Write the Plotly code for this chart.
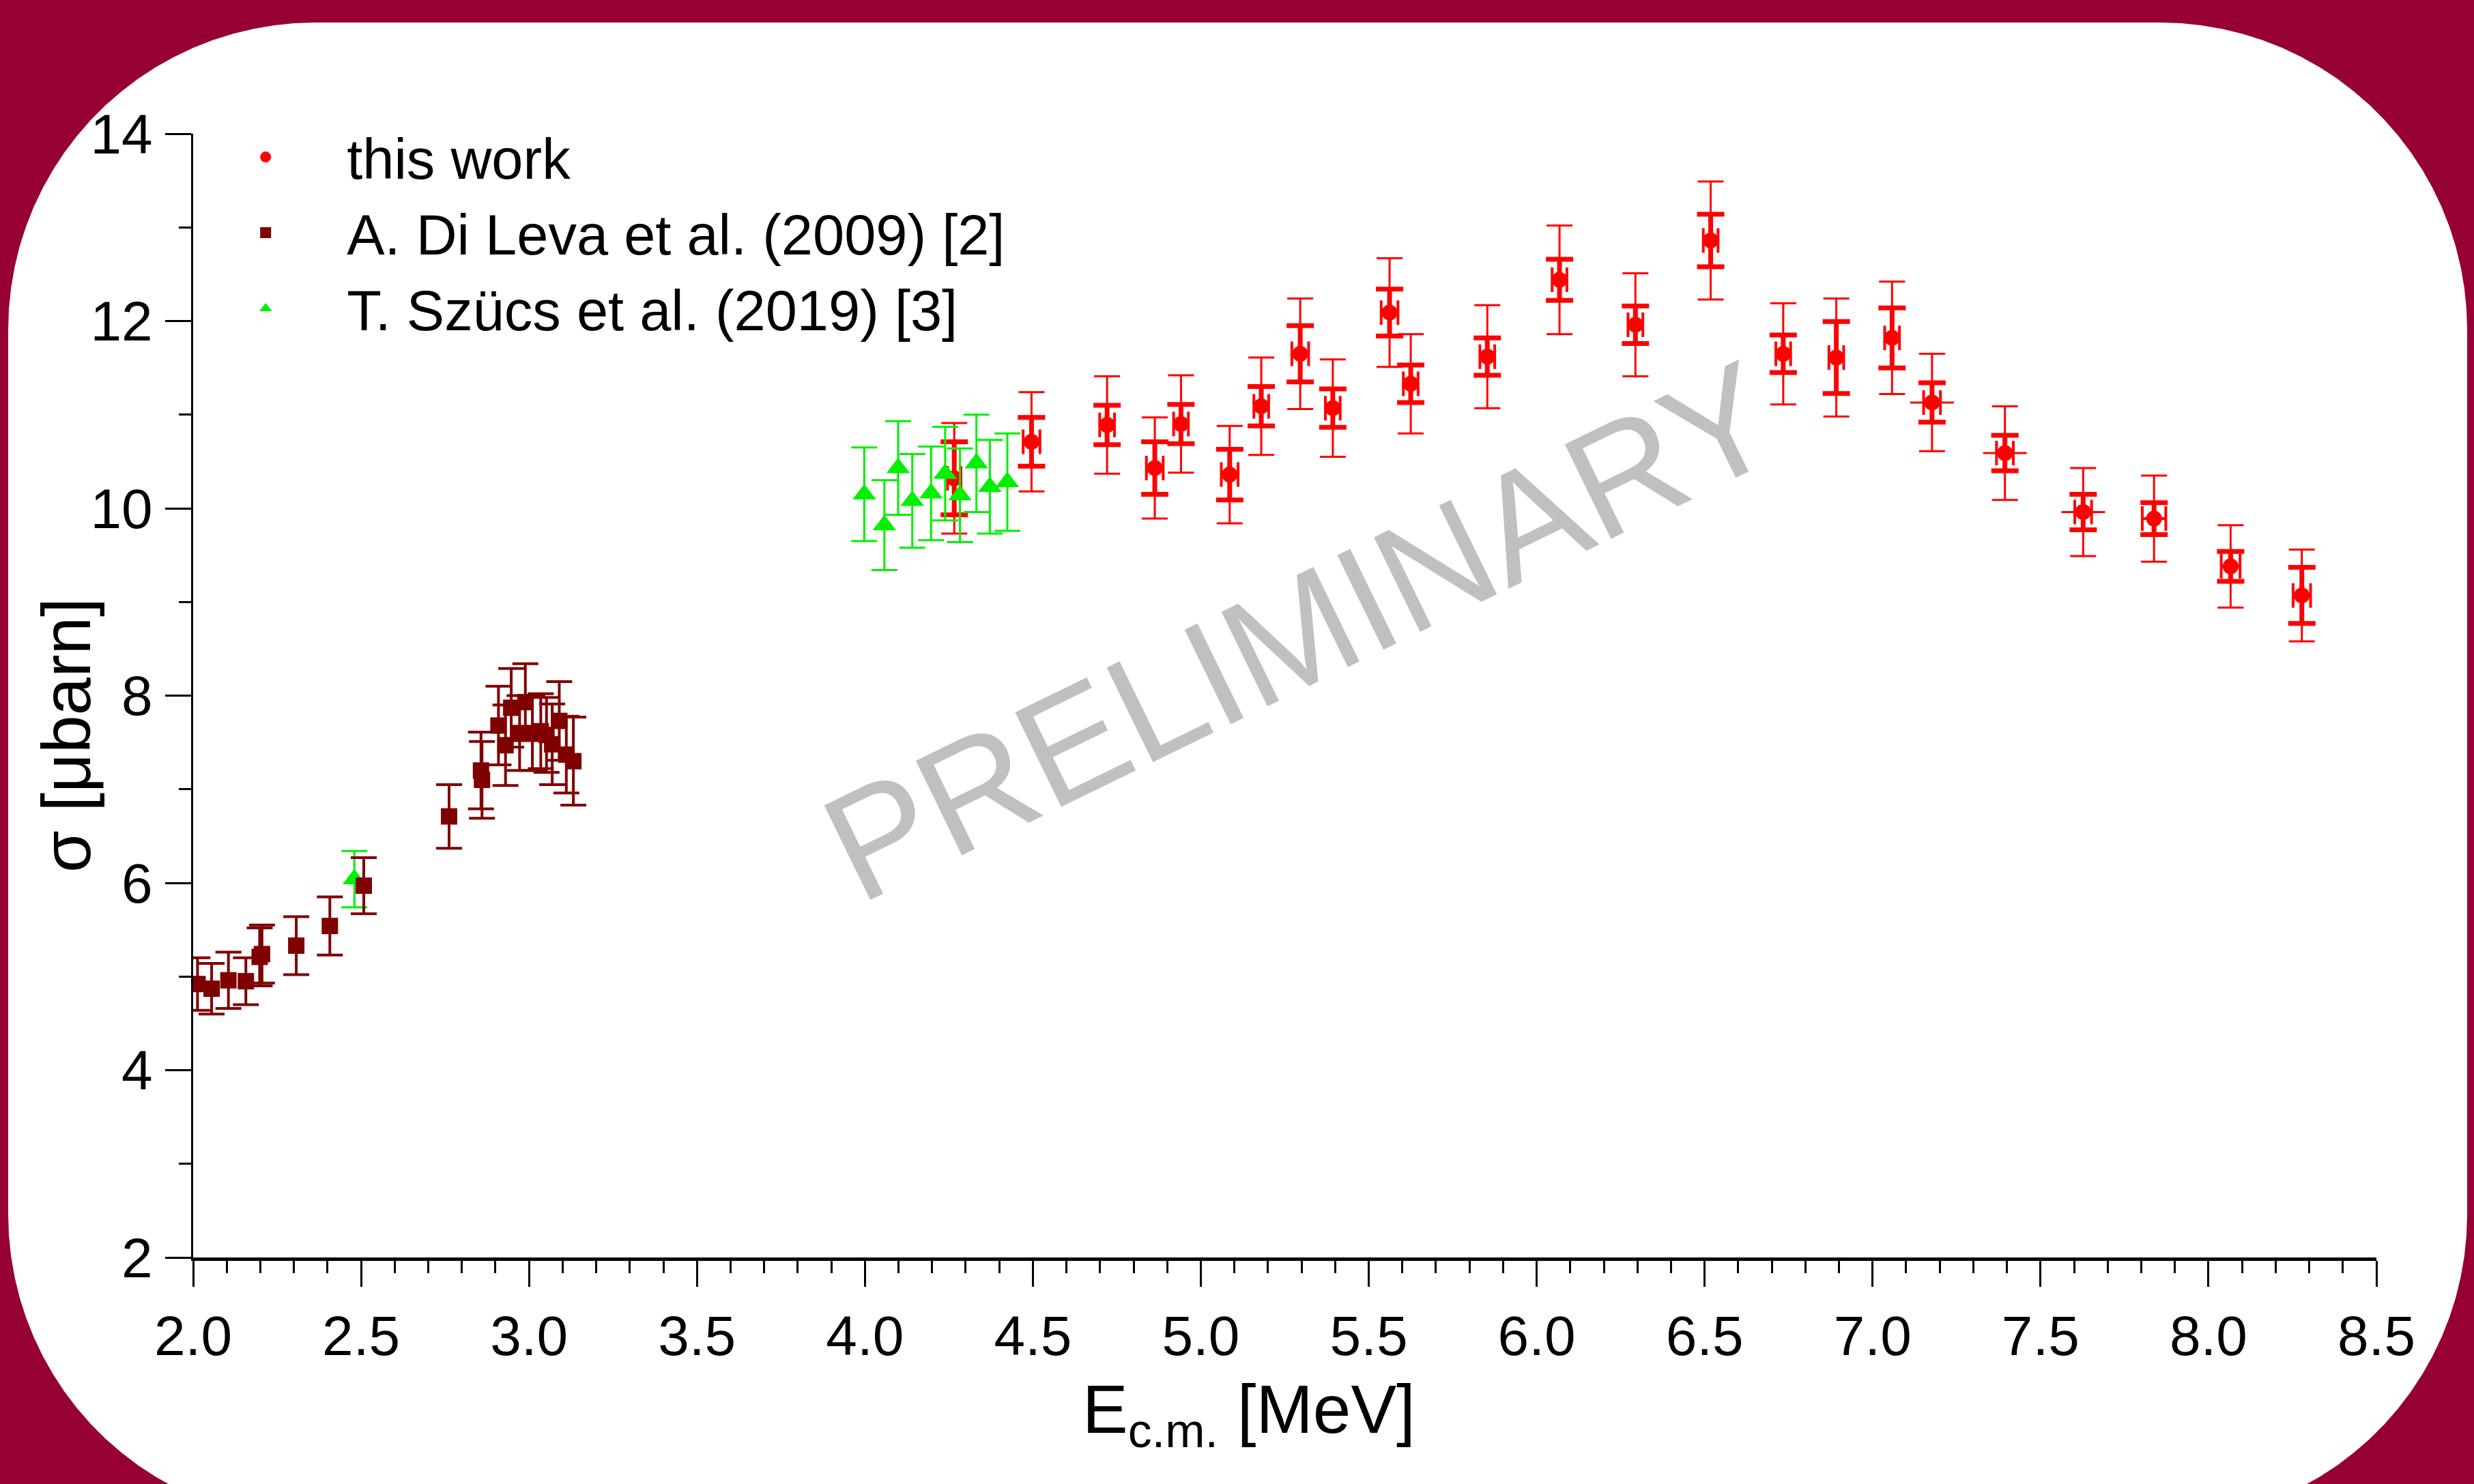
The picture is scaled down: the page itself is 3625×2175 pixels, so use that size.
import numpy as np
import plotly.graph_objects as go

# ---------------- data ----------------
# this work
tw_E = [4.266, 4.496, 4.721, 4.863, 4.941, 5.086, 5.180, 5.296, 5.393, 5.562, 5.625, 5.853,
        6.068, 6.294, 6.518, 6.734, 6.892, 7.058, 7.177, 7.394, 7.627, 7.838, 8.066, 8.278]
tw_sigma = [10.32, 10.71, 10.89, 10.43, 10.90, 10.36, 11.09, 11.65, 11.07, 12.09, 11.33, 11.62,
            12.44, 11.96, 12.86, 11.65, 11.61, 11.82, 11.13, 10.59, 9.96, 9.89, 9.38, 9.07]
tw_stat = [0.39, 0.26, 0.21, 0.28, 0.21, 0.27, 0.21, 0.30, 0.205, 0.25, 0.20, 0.20,
           0.22, 0.20, 0.28, 0.20, 0.385, 0.32, 0.21, 0.19, 0.19, 0.17, 0.16, 0.30]
tw_total = [0.59, 0.53, 0.52, 0.54, 0.52, 0.52, 0.52, 0.59, 0.52, 0.58, 0.53, 0.55,
            0.58, 0.55, 0.63, 0.54, 0.63, 0.60, 0.52, 0.50, 0.47, 0.46, 0.44, 0.49]
tw_dE = [0.02, 0.025, 0.022, 0.025, 0.022, 0.025, 0.022, 0.025, 0.022, 0.025, 0.022, 0.022,
         0.022, 0.022, 0.022, 0.022, 0.022, 0.022, 0.025, 0.025, 0.025, 0.035, 0.028, 0.026]
tw_dE_total = [0, 0, 0, 0, 0, 0, 0, 0, 0, 0, 0, 0,
               0, 0, 0, 0, 0, 0, 0.065, 0.065, 0.065, 0, 0, 0]

# A. Di Leva et al. (2009)
dl_E = [2.013, 2.055, 2.105, 2.157, 2.198, 2.205, 2.307, 2.407, 2.508, 2.762, 2.857, 2.860,
        2.909, 2.930, 2.947, 2.972, 2.989, 3.010, 3.035, 3.052, 3.069, 3.090, 3.111, 3.132]
dl_sigma = [4.92, 4.87, 4.96, 4.95, 5.21, 5.24, 5.33, 5.54, 5.97, 6.71, 7.20, 7.10,
            7.68, 7.47, 7.87, 7.60, 7.93, 7.60, 7.62, 7.58, 7.48, 7.73, 7.37, 7.30]
dl_err = [0.28, 0.27, 0.30, 0.25, 0.31, 0.31, 0.31, 0.31, 0.30, 0.34, 0.41, 0.41,
          0.42, 0.43, 0.42, 0.40, 0.41, 0.40, 0.40, 0.40, 0.43, 0.42, 0.41, 0.47]

# T. Szücs et al. (2019)
sz_E = [2.480, 3.998, 4.058, 4.099, 4.141, 4.197, 4.239, 4.283, 4.332, 4.372, 4.424]
sz_sigma = [6.04, 10.15, 9.82, 10.43, 10.08, 10.16, 10.37, 10.14, 10.48, 10.23, 10.28]
sz_err = [0.30, 0.50, 0.48, 0.50, 0.50, 0.50, 0.50, 0.50, 0.52, 0.50, 0.52]

# axes
x_tickvals = [2.0, 2.5, 3.0, 3.5, 4.0, 4.5, 5.0, 5.5, 6.0, 6.5, 7.0, 7.5, 8.0, 8.5]
x_ticktext = ["2.0", "2.5", "3.0", "3.5", "4.0", "4.5", "5.0", "5.5", "6.0", "6.5", "7.0", "7.5", "8.0", "8.5"]
y_tickvals = [2, 4, 6, 8, 10, 12, 14]
y_ticktext = ["2", "4", "6", "8", "10", "12", "14"]

# ---------------- styling / geometry ----------------
W, H = 3625, 2175
ML, MR, MT, MB = 283, 143, 196, 332
PW, PH = W - ML - MR, H - MT - MB
FONT = "Liberation Sans, Arial, sans-serif"
RED, MAROON, GREEN = "#FF0000", "#800000", "#00F000"
BG = "#970034"


def px_to_paper(px, py):
    return (px - ML) / PW, (H - MB - py) / PH


def rounded_panel(x0, y0, x1, y1, r, n=24):
    pts = []
    corners = [((x0 + r, y0 + r), 180, 270), ((x1 - r, y0 + r), 270, 360),
               ((x1 - r, y1 - r), 0, 90), ((x0 + r, y1 - r), 90, 180)]
    for (cx, cy), a0, a1 in corners:
        for a in np.linspace(np.radians(a0), np.radians(a1), n):
            pts.append(px_to_paper(cx + r * np.cos(a), cy + r * np.sin(a)))
    return "M " + " L ".join(f"{x:.5f},{y:.5f}" for x, y in pts) + " Z"


fig = go.Figure()

# this work: total uncertainty (thin)
fig.add_trace(go.Scatter(
    x=tw_E, y=tw_sigma, mode="markers", showlegend=False, hoverinfo="skip",
    marker=dict(symbol="circle", size=23, color=RED),
    error_y=dict(type="data", array=tw_total, visible=True, color=RED, thickness=3, width=19),
    error_x=dict(type="data", array=tw_dE_total, visible=True, color=RED, thickness=3, width=0),
))
# this work: statistical (thick)
fig.add_trace(go.Scatter(
    x=tw_E, y=tw_sigma, mode="markers", name="this work", legendrank=1,
    marker=dict(symbol="circle", size=23, color=RED),
    error_y=dict(type="data", array=tw_stat, visible=True, color=RED, thickness=7, width=20),
    error_x=dict(type="data", array=tw_dE, visible=True, color=RED, thickness=4, width=18),
))
# Szücs
fig.add_trace(go.Scatter(
    x=sz_E, y=sz_sigma, mode="markers", name="T. Szücs et al. (2019) [3]", legendrank=3,
    marker=dict(symbol="triangle-up", size=30, color=GREEN),
    error_y=dict(type="data", array=sz_err, visible=True, color=GREEN, thickness=3, width=19),
))
# Di Leva
fig.add_trace(go.Scatter(
    x=dl_E, y=dl_sigma, mode="markers", name="A. Di Leva et al. (2009) [2]", legendrank=2,
    marker=dict(symbol="square", size=24, color=MAROON),
    error_y=dict(type="data", array=dl_err, visible=True, color=MAROON, thickness=4, width=19),
))

axis_common = dict(showgrid=False, zeroline=False, showline=True, linecolor="black",
                   ticks="outside", tickcolor="black", tickwidth=3, ticklen=38,
                   tickfont=dict(family=FONT, size=82, color="black"), mirror=False)

fig.update_layout(
    width=W, height=H,
    margin=dict(l=ML, r=MR, t=MT, b=MB, pad=0),
    paper_bgcolor=BG, plot_bgcolor="white",
    font=dict(family=FONT, color="black"),
    xaxis=dict(range=[2.0, 8.5], tickmode="array", tickvals=x_tickvals, ticktext=x_ticktext,
               linewidth=5, ticklabelstandoff=2,
               minor=dict(tickmode="linear", tick0=2.0, dtick=0.1, ticks="outside",
                          ticklen=18, tickwidth=3, tickcolor="black", showgrid=False),
               **axis_common),
    yaxis=dict(range=[2, 14], tickmode="array", tickvals=y_tickvals, ticktext=y_ticktext,
               linewidth=3, ticklabelstandoff=2,
               minor=dict(tickmode="linear", tick0=2, dtick=1, ticks="outside",
                          ticklen=18, tickwidth=3, tickcolor="black", showgrid=False),
               **axis_common),
    legend=dict(x=-0.004, y=1.016, xanchor="left", yanchor="top",
                font=dict(family=FONT, size=83, color="black"),
                itemwidth=228, bgcolor="rgba(0,0,0,0)", borderwidth=0,
                traceorder="normal", tracegroupgap=0),
    showlegend=True,
)

px0, py0 = px_to_paper(1905, 925)
fig.add_annotation(text="PRELIMINARY", x=px0, y=py0, xref="paper", yref="paper",
                   xanchor="center", yanchor="middle", showarrow=False, textangle=-26,
                   font=dict(family=FONT, size=224, color="#C0C0C0"))

tx, ty = px_to_paper(1830, 2072)
fig.add_annotation(text="E<sub>c.m.</sub> [MeV]", x=tx, y=ty, xref="paper", yref="paper",
                   xanchor="center", yanchor="middle", showarrow=False,
                   font=dict(family=FONT, size=100, color="black"))

yx, yy = px_to_paper(97, 1078)
fig.add_annotation(text="σ [μbarn]", x=yx, y=yy, xref="paper", yref="paper",
                   xanchor="center", yanchor="middle", showarrow=False, textangle=-90,
                   font=dict(family=FONT, size=100, color="black"))

fig.add_shape(type="path", xref="paper", yref="paper", path=rounded_panel(12, 33, 3615, 2230, 450),
              fillcolor="white", line=dict(width=0), layer="below")

fig.write_html("out.html", config={"displayModeBar": False},
               post_script="document.body.style.margin='0px';")
